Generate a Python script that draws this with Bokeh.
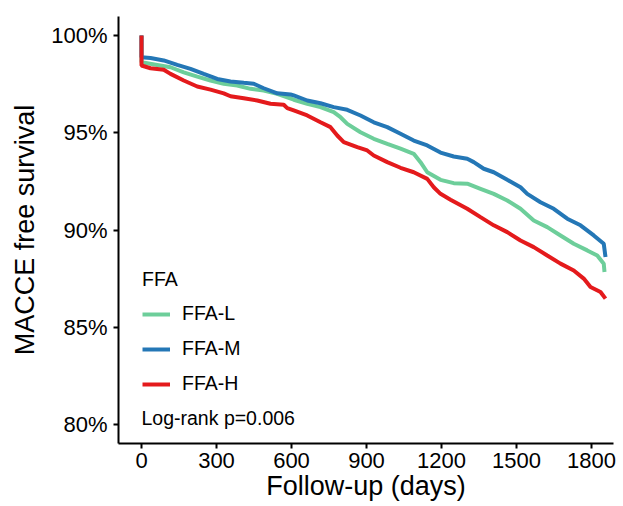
from bokeh.plotting import figure
from bokeh.models import Legend, LegendItem, Label, FixedTicker, Range1d
from bokeh.embed import file_html
from bokeh.resources import INLINE

# ---------------- data ----------------
groups = ["FFA-L", "FFA-M", "FFA-H"]
colors = ["#6DCE9A", "#2477B6", "#E41A1C"]

days_L = [0, 0, 63, 116, 169, 223, 276, 329, 383, 436, 489, 543, 609, 663, 716, 769, 796,
          823, 876, 929, 983, 1036, 1089, 1116, 1143, 1196, 1249, 1303, 1356, 1409, 1463,
          1516, 1569, 1623, 1676, 1729, 1783, 1823, 1849, 1852]
surv_L = [100, 98.63, 98.49, 98.37, 98.11, 97.89, 97.69, 97.52, 97.43, 97.26, 97.17, 97.00,
          96.70, 96.49, 96.32, 96.06, 95.80, 95.46, 95.03, 94.69, 94.43, 94.18, 93.92, 93.49,
          92.97, 92.58, 92.41, 92.38, 92.12, 91.86, 91.52, 91.09, 90.49, 90.15, 89.72, 89.29,
          88.95, 88.69, 88.27, 87.84]

days_M = [0, 0, 36, 89, 143, 196, 249, 303, 356, 409, 449, 489, 543, 596, 609, 663, 716, 769,
          823, 876, 929, 983, 1036, 1089, 1143, 1196, 1249, 1303, 1329, 1369, 1409, 1463, 1516,
          1543, 1596, 1649, 1703, 1756, 1809, 1849, 1856]
surv_M = [100, 98.88, 98.85, 98.72, 98.49, 98.29, 98.03, 97.77, 97.64, 97.57, 97.52, 97.29,
          97.03, 96.97, 96.92, 96.66, 96.52, 96.32, 96.18, 95.89, 95.54, 95.29, 94.95, 94.60,
          94.35, 93.98, 93.78, 93.66, 93.49, 93.15, 92.97, 92.58, 92.20, 91.86, 91.43, 91.09,
          90.58, 90.24, 89.72, 89.29, 88.61]

days_H = [0, 0, 36, 89, 116, 169, 223, 276, 329, 356, 409, 463, 516, 569, 583, 609, 663, 716,
          756, 783, 809, 863, 903, 929, 983, 1036, 1089, 1143, 1169, 1196, 1236, 1303, 1356,
          1409, 1463, 1516, 1569, 1623, 1676, 1729, 1769, 1796, 1836, 1856]
surv_H = [100, 98.46, 98.32, 98.24, 98.03, 97.69, 97.38, 97.22, 97.03, 96.88, 96.78, 96.66,
          96.49, 96.44, 96.27, 96.15, 95.89, 95.54, 95.29, 94.86, 94.52, 94.26, 94.09, 93.83,
          93.49, 93.20, 92.97, 92.63, 92.20, 91.86, 91.56, 91.09, 90.66, 90.24, 89.89, 89.46,
          89.12, 88.69, 88.27, 87.92, 87.50, 87.07, 86.81, 86.47]

x_ticks = [0, 300, 600, 900, 1200, 1500, 1800]
y_ticks = [80, 85, 90, 95, 100]
y_tick_labels = ["80%", "85%", "90%", "95%", "100%"]

logrank_text = "Log-rank p=0.006"
logrank_x = 0
logrank_y = 80.32

# ---------------- figure ----------------
FONT = "Liberation Sans"

p = figure(width=623, height=506, output_backend="svg", toolbar_location=None,
           x_range=Range1d(-92, 1888), y_range=Range1d(79.02, 100.98),
           min_border_left=118, min_border_right=10, min_border_top=16,
           min_border_bottom=63)
p.outline_line_color = None
p.grid.visible = False
p.background_fill_color = "white"
p.border_fill_color = "white"

series = [(days_L, surv_L), (days_M, surv_M), (days_H, surv_H)]
renderers = []
for (dx, sy), col in zip(series, colors):
    r = p.line(dx, sy, line_color=col, line_width=4)
    renderers.append(r)

# axes
p.xaxis.ticker = FixedTicker(ticks=x_ticks)
p.yaxis.ticker = FixedTicker(ticks=y_ticks)
p.yaxis.major_label_overrides = {t: l for t, l in zip(y_ticks, y_tick_labels)}
p.xaxis.axis_label = "Follow-up (days)"
p.yaxis.axis_label = "MACCE free survival"

for ax in (p.xaxis[0], p.yaxis[0]):
    ax.axis_line_width = 2
    ax.axis_line_color = "black"
    ax.major_tick_line_width = 2
    ax.major_tick_line_color = "black"
    ax.major_tick_out = 5
    ax.major_tick_in = 0
    ax.minor_tick_line_color = None
    ax.major_label_text_font = FONT
    ax.major_label_text_font_size = "22px"
    ax.major_label_text_color = "black"
    ax.axis_label_text_font = FONT
    ax.axis_label_text_font_size = "27px"
    ax.axis_label_text_font_style = "normal"
    ax.axis_label_text_color = "black"

p.xaxis.major_label_standoff = 4
p.xaxis.axis_label_standoff = 0
p.yaxis.major_label_standoff = 6
p.yaxis.axis_label_standoff = 8

# legend
legend = Legend(
    items=[LegendItem(label=g, renderers=[r]) for g, r in zip(groups, renderers)],
    title="FFA", location=(24, 48),
    background_fill_alpha=0, border_line_color=None,
    padding=0, margin=0, spacing=12,
    glyph_width=28, glyph_height=20, label_height=20, label_standoff=12,
    label_text_font=FONT, label_text_font_size="19.5px", label_text_color="black",
    title_text_font=FONT, title_text_font_size="19.5px", title_text_font_style="normal",
    title_text_color="black", title_standoff=11,
)
p.add_layout(legend)

p.add_layout(Label(x=logrank_x, y=logrank_y, text=logrank_text, text_font=FONT,
                   text_font_size="19.5px", text_color="black",
                   text_baseline="middle", text_align="left"))

open("out.html", "w").write(file_html(p, INLINE))
